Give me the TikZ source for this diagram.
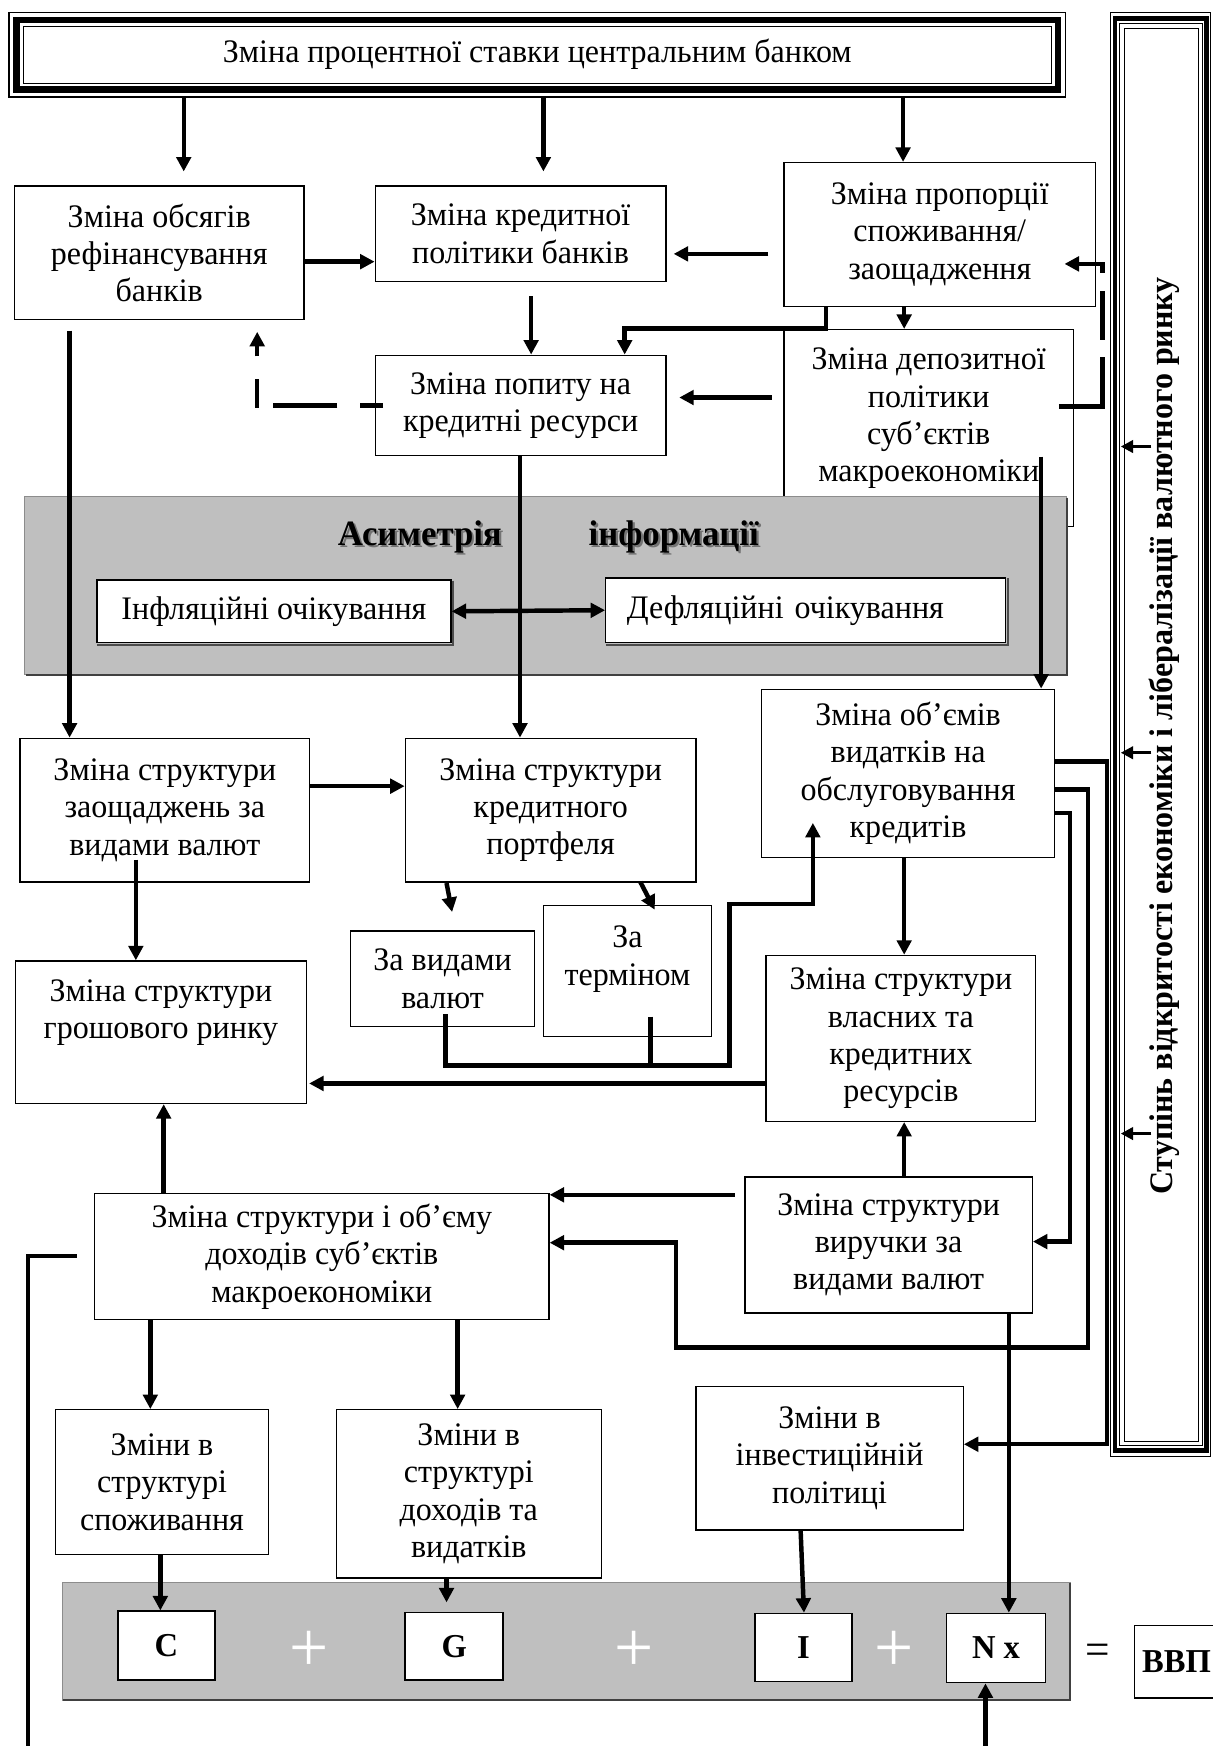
\documentclass[tikz,border=0pt]{standalone}
\usepackage{fontspec}
\setmainfont{Liberation Serif}[FakeStretch=0.975]
\usetikzlibrary{arrows.meta}

\begin{document}
\begin{tikzpicture}[x=1pt,y=-1pt,
  every node/.style={font=\fontsize{29.5}{33.5}\selectfont},
  box/.style={draw,line width=1.2pt,fill=white,align=center,inner sep=0pt},
  letter/.style={box,line width=1.5pt,font=\fontsize{30}{33}\selectfont\bfseries},
  link/.style={line width=4pt,-{Triangle[length=13pt,width=13pt]}},
  wire/.style={line width=4pt},
  tick/.style={line width=3pt,-{Triangle[length=11pt,width=11pt]}},
  band/.style={fill=black!25,draw=black!45,line width=1pt},
  plus/.style={text=white,inner sep=0pt,font=\fontsize{64}{64}\selectfont},
  title/.style={inner sep=0pt,font=\fontsize{32}{36}\selectfont\bfseries}]

 \fill[white] (0,0) rectangle (1089,1568);
 \useasboundingbox (0,0) rectangle (1089,1568);

    % Central bank box
    \node[box,minimum width=949pt,minimum height=76pt] (rate) at (482.5,49)
        {Зміна процентної ставки центральним банком};
    \draw[line width=6pt] ([shift={(7.5,7.5)}]rate.north west) rectangle ([shift={(-7.5,-7.5)}]rate.south east);
    \draw[line width=1pt] ([shift={(13.5,13.5)}]rate.north west) rectangle ([shift={(-13.5,-13)}]rate.south east);

    % Openness frame on the right
    \node[draw,line width=1pt,inner sep=0pt,minimum width=90pt,minimum height=1297pt] (open) at (1042,659.5) {};
    \draw[line width=4pt] ([shift={(5,6)}]open.north west) rectangle ([shift={(-4,-6)}]open.south east);
    \draw[line width=1pt] ([shift={(9,11)}]open.north west) rectangle ([shift={(-8,-10)}]open.south east);
    \draw[line width=1pt] ([shift={(13,15)}]open.north west) rectangle ([shift={(-11,-14)}]open.south east);
    \node[rotate=90,font=\fontsize{29.5}{33}\selectfont\bfseries] (opentext) at (1046,661)
        {Ступінь відкритості економіки і лібералізації валютного ринку};

    % First rows of boxes
    \node[box,minimum width=260pt,minimum height=120pt] (refin) at (143,227) {Зміна обсягів\\рефінансування\\банків};
    \node[box,minimum width=261pt,minimum height=86pt] (credpol) at (467.5,210) {Зміна кредитної\\політики банків};
    \node[box,minimum width=280pt,minimum height=129pt] (propor) at (844,210.5) {Зміна пропорції\\споживання/\\заощадження};
    \node[box,minimum width=261pt,minimum height=90pt] (demand) at (467.5,364) {Зміна попиту на\\кредитні ресурси};
    \node[box,minimum width=260pt,minimum height=177pt] (deposit) at (834,384.5)
        {Зміна депозитної\\політики\\суб’єктів\\макроекономіки\\[-10pt]~};

    % Information asymmetry band
    \path[band] (22,446) rectangle (958,606);
    \draw[black!75,line width=2pt] (958,447) -- (958,606) -- (23,606);
    \node[title,text=black!55] (asym-s) at (379,484) {Асиметрія};
    \node[title] (asym) at (377,482) {Асиметрія};
    \node[title,text=black!55] (info-s) at (607,484) {інформації};
    \node[title] (info) at (605,482) {інформації};
    \node[box,minimum width=318pt,minimum height=56pt] (infl) at (246,549) {Інфляційні очікування};
    \node[box,minimum height=58pt,text width=321pt,align=left,inner xsep=19pt] (defl) at (723.5,548) {Дефляційні очікування};
    \draw[black!70,line width=2pt] ([shift={(1.5,1)}]infl.north east) -- ([shift={(1.5,1.5)}]infl.south east) -- ([shift={(1,1.5)}]infl.south west);
    \draw[black!70,line width=2pt] ([shift={(1.5,1)}]defl.north east) -- ([shift={(1.5,1.5)}]defl.south east) -- ([shift={(1,1.5)}]defl.south west);
    \draw[line width=4pt,{Triangle[length=13pt,width=13pt]}-{Triangle[length=13pt,width=13pt]}] (infl.east) -- (defl.west);

    % Middle rows
    \node[box,minimum width=263pt,minimum height=151pt] (service) at (815.5,694.5) {Зміна об’ємів\\видатків на\\обслуговування\\кредитів};
    \node[box,minimum width=260pt,minimum height=129pt] (savings) at (148,727.5) {Зміна структури\\заощаджень за\\видами валют};
    \node[box,minimum width=261pt,minimum height=129pt] (portf) at (494.5,727.5) {Зміна структури\\кредитного\\портфеля};
    \node[box,minimum width=261pt,minimum height=128pt] (money) at (144.5,927) {Зміна структури\\грошового ринку\\[8pt]~};
    \node[box,minimum width=165pt,minimum height=86pt] (bycur) at (397.5,879) {За видами\\валют};
    \node[box,minimum width=151pt,minimum height=118pt] (byterm) at (563.5,872) {За\\терміном\\[-6pt]~};
    \node[box,minimum width=242pt,minimum height=149pt] (ownres) at (809,932.5) {Зміна структури\\власних та\\кредитних\\ресурсів};
    \node[box,minimum width=258pt,minimum height=122pt] (revenue) at (798,1118) {Зміна структури\\виручки за\\видами валют};
    \node[box,minimum width=408pt,minimum height=113pt] (income) at (289,1128.5) {Зміна структури і об’єму\\доходів суб’єктів\\макроекономіки};
    \node[box,minimum width=191pt,minimum height=130pt] (consum) at (145.5,1331) {Зміни в\\структурі\\споживання};
    \node[box,minimum width=238pt,minimum height=151pt] (budget) at (421,1341.5) {Зміни в\\структурі\\доходів та\\видатків};
    \node[box,minimum width=240pt,minimum height=129pt] (invest) at (745,1309.5) {Зміни в\\інвестиційній\\політиці};

    % GDP band
    \path[band] (56,1421) rectangle (961,1527);
    \draw[black!75,line width=2pt] (961,1422) -- (961,1527) -- (57,1527);
    \node[letter,minimum width=87pt,minimum height=62pt] (cC) at (149.5,1478) {C};
    \node[letter,minimum width=88pt,minimum height=61pt] (cG) at (408,1478.5) {G};
    \node[letter,minimum width=87pt,minimum height=61pt] (cI) at (721.5,1479.5) {I};
    \node[letter,minimum width=89pt,minimum height=62pt] (cNx) at (894.5,1480) {N x};
    \node[plus] (p1) at (278,1483) {+};
    \node[plus] (p2) at (569,1483) {+};
    \node[plus] (p3) at (803,1483) {+};
    \node[inner sep=0pt,font=\fontsize{40}{40}\selectfont] (eq) at (986,1486) {=};
    \node[letter,line width=1.2pt,minimum width=75pt,minimum height=65pt] (gdp) at (1056.5,1492.5) {ВВП};

    % Free ends and bends of the connectors
    \coordinate (t1) at (165,154);
    \coordinate (t2) at (488,154);
    \coordinate (cb) at (690,228);
    \coordinate (cbe) at (605,228);
    \coordinate (bd) at (477,266);
    \coordinate (cd) at (742,295);
    \coordinate (ed) at (693,357);
    \coordinate (ede) at (610,357);
    \coordinate (da) at (344,364);
    \coordinate (da1) at (231,364);
    \coordinate (dae) at (231,298);
    \coordinate (ec) at (951,365);
    \coordinate (ec1) at (990,365);
    \coordinate (ec2) at (990,237);
    \coordinate (ece) at (956,237);
    \coordinate (ef) at (935,410);
    \coordinate (ag) at (62.5,297);
    \coordinate (gk) at (122,772);
    \coordinate (hl) at (401,793);
    \coordinate (hle) at (406,819);
    \coordinate (hm) at (575,792);
    \coordinate (hme) at (588,817);
    \coordinate (lw) at (400,911);
    \coordinate (mw) at (584,913);
    \coordinate (jn) at (655,957);
    \coordinate (fin) at (730,739);
    \coordinate (pq) at (660,1073);
    \coordinate (fp) at (961,1115);
    \coordinate (fq) at (977,1210);
    \coordinate (fq1) at (607,1116);
    \coordinate (fr) at (994,1297);
    \coordinate (qw) at (69,1128);
    \coordinate (lowL) at (25,1568);
    \coordinate (lowR) at (885,1568);
    \coordinate (gin) at (401,1439);
    \coordinate (o1) at (1034,401);
    \coordinate (o2) at (1034,676);
    \coordinate (o3) at (1034,1018);

    % Connectors
    \draw[link] (rate.south -| t1) -- (t1);
    \draw[link] (rate.south -| t2) -- (t2);
    \draw[link] (rate.south -| 811,0) -- (propor.north -| 811,0);
    \draw[link] (refin.east |- 0,235) -- (credpol.west |- 0,235);
    \draw[link] (cb) -- (cbe);
    \draw[link] (bd) -- (demand.north -| bd);
    \draw[link] (propor.south -| cd) -- (cd) -| (demand.north -| 561,0);
    \draw[link] (propor.south -| 812,0) -- (deposit.north -| 812,0);
    \draw[link] (ed) -- (ede);
    \draw[wire,dash pattern=on 21pt off 20pt on 58pt off 12pt on 26pt off 20pt on 60pt off 1pt,
          -{Triangle[length=13pt,width=13pt]}] (da) -- (da1) -- (dae);
    \draw[wire,dash pattern=on 83pt off 16pt on 44pt off 16pt on 100pt off 1pt,
          -{Triangle[length=13pt,width=13pt]}] (ec) -- (ec1) -- (ec2) -- (ece);
    \draw[link] (ef) -- (service.north -| ef);
    \draw[link] (ag) -- (savings.north -| ag);
    \draw[link] (demand.south -| 467,0) -- (portf.north -| 467,0);
    \draw[link] (savings.east |- 0,706) -- (portf.west |- 0,706);
    \draw[link] (gk) -- (money.north -| gk);
    \draw[link] (hl) -- (hle);
    \draw[link] (hm) -- (hme);
    \draw[link] (lw) |- (jn) |- (730,812) -- (fin);
    \draw[wire] (mw) -- (mw |- jn);
    \draw[link] (service.south -| 812,0) -- (ownres.north -| 812,0);
    \draw[link] (ownres.west |- 0,973) -- ([shift={(2,0)}]money.east |- 0,973);
    \draw[link] (revenue.north -| 812,0) -- (ownres.south -| 812,0);
    \draw[link] (income.north -| 147,0) -- (money.south -| 147,0);
    \draw[link] (pq) -- (income.east |- pq);
    \draw[link] (service.east |- 0,730) -| (fp) -- (revenue.east |- fp);
    \draw[link] (service.east |- 0,709) -| (fq) -| (fq1) -- (income.east |- fq1);
    \draw[link] (service.east |- 0,684) -| (fr) -- (invest.east |- fr);
    \draw[link] (revenue.south -| 906,0) -- (cNx.north -| 906,0);
    \draw[link] (income.south -| 135,0) -- (consum.north -| 135,0);
    \draw[link] (income.south -| 411,0) -- (budget.north -| 411,0);
    \draw[link] (consum.south -| 144,0) -- (cC.north -| 144,0);
    \draw[link] (budget.south -| gin) -- (gin);
    \draw[link] (invest.south -| 719,0) -- (cI.north -| 722,0);
    \draw[wire] (qw) -| (lowL);
    \draw[link] (lowR) -- (cNx.south -| lowR);
    \draw[tick] (o1) -- ([shift={(10,0)}]open.west |- o1);
    \draw[tick] (o2) -- ([shift={(10,0)}]open.west |- o2);
    \draw[tick] (o3) -- ([shift={(10,0)}]open.west |- o3);

\end{tikzpicture}
\end{document}
